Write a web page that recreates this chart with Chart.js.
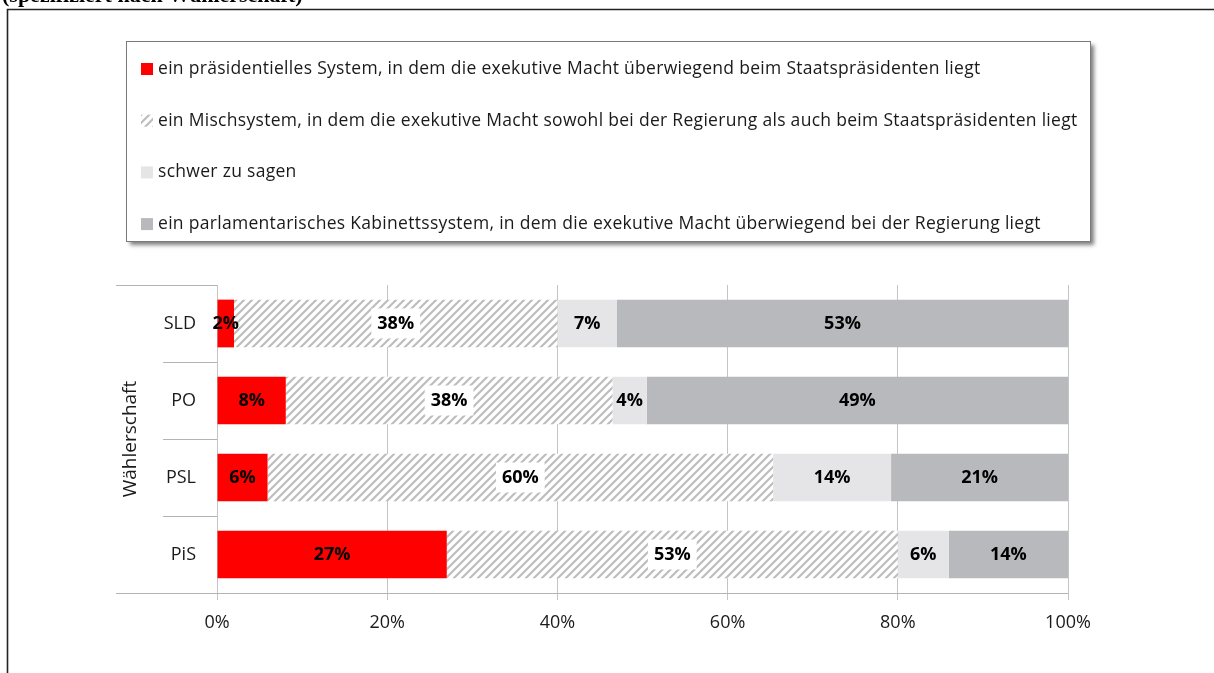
<!DOCTYPE html>
<html>
<head>
<meta charset="utf-8">
<script src="https://cdn.jsdelivr.net/npm/chart.js@4.4.0/dist/chart.umd.min.js"></script>
<style>
  html, body { margin: 0; padding: 0; background: #fff; }
</style>
</head>
<body>
<canvas id="myChart" width="1214" height="673"></canvas>
<script>
// data
const parties = ['SLD', 'PO', 'PSL', 'PiS'];
const seriesNames = [
    'ein präsidentielles System, in dem die exekutive Macht überwiegend beim Staatspräsidenten liegt',
    'ein Mischsystem, in dem die exekutive Macht sowohl bei der Regierung als auch beim Staatspräsidenten liegt',
    'schwer zu sagen',
    'ein parlamentarisches Kabinettssystem, in dem die exekutive Macht überwiegend bei der Regierung liegt'
];
const praesidentiell = [2, 8, 6, 27];
const mischsystem = [38, 38, 60, 53];
const schwerZuSagen = [7, 4, 14, 6];
const parlamentarisch = [53, 49, 21, 14];
const xTicks = [0, 20, 40, 60, 80, 100];
const axisTitle = 'Wählerschaft';
const topText = '(spezifiziert nach Wählerschaft)';

const FONT = '"Open Sans", Lato, sans-serif';
const TEXT = '#1a1a1a';

// hatch for the mixed system
function makeHatch() {
    const c = document.createElement('canvas');
    c.width = 8; c.height = 8;
    const g = c.getContext('2d');
    g.fillStyle = '#fff';
    g.fillRect(0, 0, 8, 8);
    g.strokeStyle = '#bdbdbd';
    g.lineWidth = 2.2;
    g.beginPath();
    g.moveTo(-1, 9); g.lineTo(9, -1);
    g.moveTo(-3, 3); g.lineTo(3, -3);
    g.moveTo(5, 11); g.lineTo(11, 5);
    g.stroke();
    return g.createPattern(c, 'repeat');
}
const hatch = makeHatch();

// 100% stacked, like the original
const rawSeries = [praesidentiell, mischsystem, schwerZuSagen, parlamentarisch];
const rowTotals = parties.map((p, i) => rawSeries.reduce((s, arr) => s + arr[i], 0));
const toShare = arr => arr.map((v, i) => v / rowTotals[i] * 100);

const colors = ['#ff0000', hatch, '#e5e5e7', '#b8b9bc'];

const datasets = rawSeries.map((arr, k) => ({
    label: seriesNames[k],
    data: toShare(arr),
    raw: arr,
    backgroundColor: colors[k],
    borderWidth: 0,
    barPercentage: 0.62,
    categoryPercentage: 1
}));

// frame, cut-off heading and the legend box
const backdrop = {
    id: 'backdrop',
    beforeDraw(chart) {
        const ctx = chart.ctx;
        ctx.save();
        ctx.fillStyle = '#000';
        ctx.font = 'bold 22px "Liberation Serif", serif';
        ctx.textBaseline = 'alphabetic';
        ctx.fillText(topText, 2, 2);

        ctx.strokeStyle = '#222';
        ctx.lineWidth = 1.6;
        ctx.beginPath();
        ctx.moveTo(7.5, 673); ctx.lineTo(7.5, 9.5); ctx.lineTo(1214, 9.5);
        ctx.stroke();

        // legend
        const bx = 126.5, by = 41.5, bw = 964, bh = 200;
        ctx.save();
        ctx.shadowColor = 'rgba(0,0,0,0.5)';
        ctx.shadowOffsetX = 3;
        ctx.shadowOffsetY = 3;
        ctx.shadowBlur = 4;
        ctx.fillStyle = '#fff';
        ctx.fillRect(bx, by, bw, bh);
        ctx.restore();
        ctx.strokeStyle = '#7a7a7a';
        ctx.lineWidth = 1;
        ctx.strokeRect(bx, by, bw, bh);

        ctx.font = '17.5px ' + FONT;
        ctx.letterSpacing = '0.3px';
        ctx.textBaseline = 'middle';
        chart.data.datasets.forEach((ds, i) => {
            const cy = 69 + i * 51.7;
            ctx.fillStyle = ds.backgroundColor;
            ctx.fillRect(141, cy - 6, 12, 12);
            ctx.fillStyle = TEXT;
            ctx.fillText(ds.label, 158, cy);
        });
        ctx.restore();
    }
};

// category axis lines like the multi-level axis of the original
const catAxis = {
    id: 'catAxis',
    beforeDatasetsDraw(chart) {
        const ctx = chart.ctx;
        const y = chart.scales.y;
        const area = chart.chartArea;
        ctx.save();
        ctx.strokeStyle = '#b3b3b3';
        ctx.lineWidth = 1;
        ctx.beginPath();
        ctx.moveTo(116, Math.round(area.top) + 0.5);
        ctx.lineTo(area.left, Math.round(area.top) + 0.5);
        ctx.moveTo(116, Math.round(area.bottom) + 0.5);
        ctx.lineTo(area.right, Math.round(area.bottom) + 0.5);
        for (let i = 1; i < parties.length; i++) {
            const py = Math.round(y.getPixelForValue(i - 0.5)) + 0.5;
            ctx.moveTo(163, py);
            ctx.lineTo(area.left, py);
        }
        ctx.stroke();
        ctx.restore();
    }
};

// value labels in the middle of each segment
const valueLabels = {
    id: 'valueLabels',
    afterDatasetsDraw(chart) {
        const ctx = chart.ctx;
        ctx.save();
        ctx.font = 'bold 18px ' + FONT;
        ctx.textAlign = 'center';
        ctx.textBaseline = 'middle';
        chart.data.datasets.forEach((ds, k) => {
            const meta = chart.getDatasetMeta(k);
            meta.data.forEach((bar, i) => {
                const txt = ds.raw[i] + '%';
                const cx = (bar.x + bar.base) / 2;
                const cy = bar.y;
                if (ds.backgroundColor === hatch) {
                    const w = ctx.measureText(txt).width + 12;
                    ctx.fillStyle = '#fff';
                    ctx.fillRect(cx - w / 2, cy - 15, w, 30);
                }
                ctx.fillStyle = '#000';
                ctx.fillText(txt, cx, cy);
            });
        });
        ctx.restore();
    }
};

const ctx = document.getElementById('myChart').getContext('2d');
const myChart = new Chart(ctx, {
    type: 'bar',
    data: { labels: parties, datasets: datasets },
    options: {
        indexAxis: 'y',
        responsive: false,
        animation: false,
        devicePixelRatio: 1,
        layout: { padding: { top: 285, left: 116, right: 146, bottom: 40 } },
        plugins: {
            legend: { display: false },
            tooltip: { enabled: false }
        },
        scales: {
            x: {
                stacked: true,
                min: 0,
                max: 100,
                afterBuildTicks: scale => { scale.ticks = xTicks.map(v => ({ value: v })); },
                ticks: {
                    callback: v => v + '%',
                    color: TEXT,
                    font: { family: FONT, size: 18 },
                    padding: 12,
                    maxRotation: 0
                },
                grid: { color: '#c4c4c4', lineWidth: 1, tickLength: 7, drawTicks: true },
                border: { display: false },
                afterFit: s => { s.height = 40; }
            },
            y: {
                stacked: true,
                grid: { display: false },
                border: { display: false },
                ticks: {
                    color: TEXT,
                    font: { family: FONT, size: 18 },
                    padding: 13
                },
                title: {
                    display: true,
                    text: axisTitle,
                    color: TEXT,
                    font: { family: FONT, size: 19 },
                    padding: { top: 3, bottom: 0 }
                },
                afterFit: s => { s.width = 101; }
            }
        }
    },
    plugins: [backdrop, catAxis, valueLabels]
});
</script>
</body>
</html>
